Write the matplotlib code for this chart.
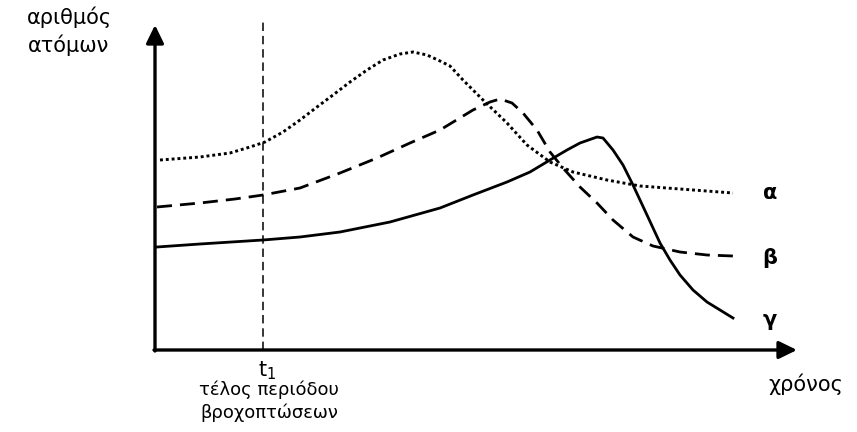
import matplotlib
matplotlib.use("Agg")
import matplotlib.pyplot as plt

plt.rcParams['font.family'] = ['DejaVu Sans']

# time (horizontal) and number of atoms (vertical), origin at axes crossing
alpha_t = [5, 45, 75, 95, 110, 128, 145, 162, 178, 195, 212, 228, 245, 258, 272, 285, 295, 308, 328, 352, 372, 395, 418, 452, 485, 525, 578]
alpha_n = [190, 193, 197, 203, 208, 218, 230, 243, 255, 268, 280, 290, 296, 298, 295, 289, 284, 270, 250, 227, 205, 188, 178, 170, 164, 161, 157]

beta_t = [2, 45, 80, 108, 145, 185, 222, 255, 285, 318, 335, 345, 357, 368, 382, 395, 408, 425, 442, 458, 478, 498, 525, 552, 578]
beta_n = [143, 147, 151, 155, 162, 177, 192, 207, 220, 240, 248, 251, 247, 237, 220, 198, 182, 163, 147, 130, 113, 104, 98, 95, 94]

gamma_t = [2, 45, 108, 145, 185, 235, 285, 318, 352, 375, 395, 412, 425, 442, 448, 458, 468, 478, 492, 505, 515, 525, 538, 552, 578]
gamma_n = [103, 106, 110, 113, 118, 128, 142, 155, 168, 178, 190, 200, 207, 213, 212, 200, 185, 165, 135, 107, 90, 75, 60, 48, 32]

t1 = 108
t_max = 642
n_max = 325
series_labels = ['α', 'β', 'γ']
ylabel = 'αριθμός\nατόμων'
xlabel = 'χρόνος'
t1_label = 't$_1$'
t1_caption = 'τέλος περιόδου\nβροχοπτώσεων'

fig = plt.figure(figsize=(8.57, 4.32), dpi=100)
ax = fig.add_axes([0, 0, 1, 1])
ax.set_xlim(-155, 702)
ax.set_ylim(-82, 350)
ax.axis('off')

arrow = dict(arrowstyle='-|>,head_length=0.78,head_width=0.38', lw=2.4, color='black',
             shrinkA=0, shrinkB=0, mutation_scale=14)
ax.annotate('', xy=(0, n_max), xytext=(0, -1), arrowprops=arrow)
ax.annotate('', xy=(t_max, 0), xytext=(-1, 0), arrowprops=arrow)

# vertical dashed line at t1
ax.plot([t1, t1], [0, n_max + 3], color='black', lw=1.1, dashes=(5.5, 3.2))

# curves
ax.plot(alpha_t, alpha_n, color='black', lw=2.1, linestyle=(0, (1, 1)), dash_capstyle='butt')
ax.plot(beta_t, beta_n, color='black', lw=2.0, dashes=(5.4, 2.9))
ax.plot(gamma_t, gamma_n, color='black', lw=2.0)

# series labels
lab_t = 615
ax.text(lab_t, alpha_n[-1], series_labels[0], fontsize=15, fontweight='bold', ha='center', va='center')
ax.text(lab_t, beta_n[-1] - 2, series_labels[1], fontsize=15, fontweight='bold', ha='center', va='center')
ax.text(lab_t, gamma_n[-1] - 2, series_labels[2], fontsize=15, fontweight='bold', ha='center', va='center')

# labels
ax.text(-86, 319, ylabel, fontsize=15, ha='center', va='center', linespacing=1.4)
ax.text(651, -34, xlabel, fontsize=15, ha='center', va='center')
ax.text(t1 + 4, -21, t1_label, fontsize=15, ha='center', va='center')
ax.text(t1 + 6, -51, t1_caption, fontsize=13, ha='center', va='center', linespacing=1.3)

fig.savefig('out.png', dpi=100)
